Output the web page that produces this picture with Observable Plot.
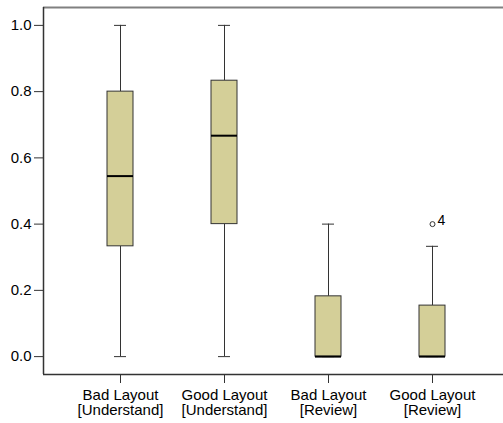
<!DOCTYPE html>
<html>
<head>
<meta charset="utf-8">
<script src="https://cdn.jsdelivr.net/npm/d3@7"></script>
<script src="https://cdn.jsdelivr.net/npm/@observablehq/plot@0.6"></script>
<style>
  html, body { margin: 0; padding: 0; background: #fff; overflow: hidden; }
</style>
</head>
<body>
<div id="chart"></div>
<script>
// Categories (x axis labels)
const categories = [
  "Bad Layout\n[Understand]",
  "Good Layout\n[Understand]",
  "Bad Layout\n[Review]",
  "Good Layout\n[Review]"
];
// Box-plot statistics per category
const whiskerLow  = [0.0, 0.0, 0.0, 0.0];
const quartile1   = [0.333, 0.4, 0.0, 0.0];
const medians     = [0.545, 0.667, 0.0, 0.0];
const quartile3   = [0.8, 0.833, 0.182, 0.154];
const whiskerHigh = [1.0, 1.0, 0.4, 0.333];
// Outliers
const outlierCategory = ["Good Layout\n[Review]"];
const outlierValue    = [0.4];
const outlierLabel    = ["4"];
// Axis ticks
const yTicks = [0.0, 0.2, 0.4, 0.6, 0.8, 1.0];
const yDomain = [-0.054, 1.054];

const stats = categories.map((c, i) => ({
  cat: c, lo: whiskerLow[i], q1: quartile1[i], med: medians[i], q3: quartile3[i], hi: whiskerHigh[i]
}));
const outliers = outlierCategory.map((c, i) => ({cat: c, v: outlierValue[i], label: outlierLabel[i]}));

const boxFill = "#d4cf98";
const ink = "#333333";
const font = "'Liberation Sans', Arial, Helvetica, sans-serif";

// left edge of the plotting frame, from the chart's own dimensions and y scale
function leftEdge(index, scales, values, dimensions) {
  return d3.create("svg:line")
    .attr("x1", dimensions.marginLeft + 0.5)
    .attr("x2", dimensions.marginLeft + 0.5)
    .attr("y1", scales.y(yDomain[0]))
    .attr("y2", scales.y(yDomain[1]))
    .attr("stroke", ink)
    .attr("stroke-width", 1.5)
    .node();
}

const chart = Plot.plot({
  width: 503,
  height: 423,
  marginLeft: 43,
  marginRight: 0,
  marginTop: 7,
  marginBottom: 49,
  style: {fontFamily: font, fontSize: "15px", color: "#000", background: "#fff"},
  x: {
    domain: categories,
    range: [106, 445],
    paddingInner: 0.7508,
    paddingOuter: 0
  },
  y: {
    domain: yDomain
  },
  marks: [
    Plot.ruleY([yDomain[0]], {stroke: ink, strokeWidth: 1.5}),
    Plot.ruleY([yDomain[1]], {stroke: "#808080", strokeWidth: 2}),
    leftEdge,
    Plot.axisY({ticks: yTicks, tickFormat: d3.format(".1f"), label: null, tickSize: 9, tickPadding: 3, fontSize: 15, fill: "#000", stroke: ink}),
    Plot.axisX({label: null, tickSize: 9, tickPadding: 5, fontSize: 15, lineHeight: 1.05, fill: "#000", stroke: ink}),
    Plot.ruleX(stats, {x: "cat", y1: "lo", y2: "q1", stroke: ink}),
    Plot.ruleX(stats, {x: "cat", y1: "q3", y2: "hi", stroke: ink}),
    Plot.tickY(stats, {x: "cat", y: "lo", stroke: ink, inset: 7}),
    Plot.tickY(stats, {x: "cat", y: "hi", stroke: ink, inset: 7}),
    Plot.barY(stats, {x: "cat", y1: "q1", y2: "q3", fill: boxFill, stroke: ink, strokeWidth: 1}),
    Plot.tickY(stats, {x: "cat", y: "med", stroke: "#000", strokeWidth: 2}),
    Plot.dot(outliers, {x: "cat", y: "v", r: 2.5, stroke: ink, fill: "#fff", strokeWidth: 1}),
    Plot.text(outliers, {x: "cat", y: "v", text: "label", dx: 9, dy: -4, fontSize: 14, fill: "#000"})
  ]
});
document.getElementById("chart").appendChild(chart);
</script>
</body>
</html>
